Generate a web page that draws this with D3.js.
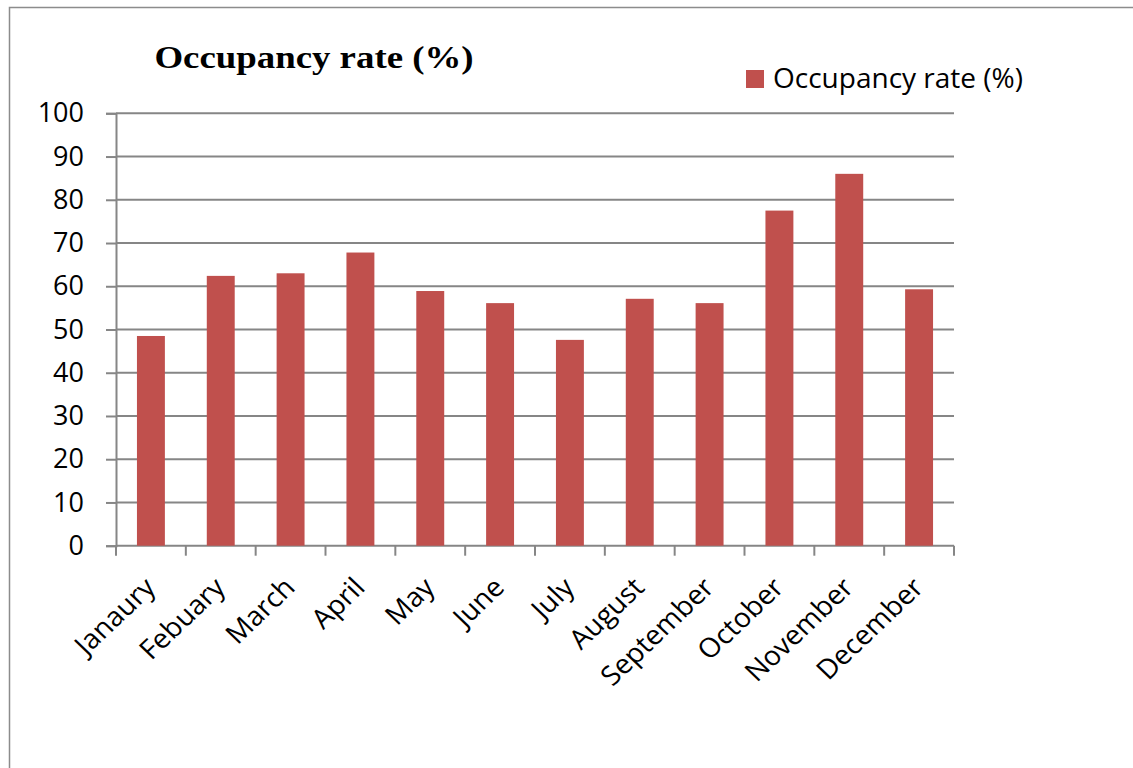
<!DOCTYPE html>
<html>
<head>
<meta charset="utf-8">
<script src="https://cdn.jsdelivr.net/npm/d3@7"></script>
<style>
  body { margin: 0; background: #fff; }
  svg { display: block; }
</style>
</head>
<body>
<div id="chart"></div>
<script>
// data
var months = ["Janaury", "Febuary", "March", "April", "May", "June", "July",
              "August", "September", "October", "November", "December"];
var occupancy = [48.5, 62.4, 63.0, 67.8, 58.9, 56.1, 47.6, 57.1, 56.1, 77.5, 86.0, 59.3];
var yTicks = [0, 10, 20, 30, 40, 50, 60, 70, 80, 90, 100];
var seriesName = "Occupancy rate (%)";
var chartTitle = "Occupancy rate (%)";

var W = 1133, H = 768;
var margin = {top: 113.3, left: 116, right: W - 954, bottom: H - 545.7};
var width = W - margin.left - margin.right,
    height = H - margin.top - margin.bottom;

var labelFont = "'Open Sans', sans-serif";
var gridColor = "#868686";
var barColor = "#C0504D";

var svg = d3.select("#chart").append("svg")
    .attr("width", W)
    .attr("height", H);

// outer chart frame (runs off the right and bottom)
svg.append("rect")
    .attr("x", 9.5).attr("y", 7.5)
    .attr("width", W + 20).attr("height", H + 20)
    .attr("fill", "none")
    .attr("stroke", "#8c8c8c")
    .attr("stroke-width", 1.5);

var g = svg.append("g")
    .attr("transform", "translate(" + margin.left + "," + margin.top + ")");

var x = d3.scaleBand().domain(months).range([0, width]).paddingInner(0.6).paddingOuter(0.3);
var xc = d3.scaleBand().domain(months).range([0, width]);
var y = d3.scaleLinear().domain([0, 100]).range([height, 0]);

// gridlines
g.append("g")
    .selectAll("line")
    .data(yTicks.slice(1))
    .enter().append("line")
    .attr("x1", 0).attr("x2", width)
    .attr("y1", function(d) { return y(d); })
    .attr("y2", function(d) { return y(d); })
    .attr("stroke", gridColor)
    .attr("stroke-width", 2);

// y axis
var yAxis = g.append("g")
    .call(d3.axisLeft(y).tickValues(yTicks).tickSize(10).tickPadding(22));
yAxis.select(".domain").attr("stroke", gridColor).attr("stroke-width", 2);
yAxis.selectAll(".tick line").attr("stroke", gridColor).attr("stroke-width", 2);
yAxis.selectAll("text")
    .attr("font-family", labelFont)
    .attr("font-size", "27px")
    .attr("fill", "#000");

// x axis: ticks sit on category boundaries
var boundaries = d3.range(months.length + 1).map(function(i) { return i * xc.step(); });
var xAxis = g.append("g").attr("transform", "translate(0," + height + ")");
xAxis.append("line")
    .attr("x1", 0).attr("x2", width)
    .attr("stroke", gridColor).attr("stroke-width", 2);
xAxis.selectAll(".btick")
    .data(boundaries)
    .enter().append("line")
    .attr("class", "btick")
    .attr("x1", function(d) { return d; })
    .attr("x2", function(d) { return d; })
    .attr("y1", 0).attr("y2", 10)
    .attr("stroke", gridColor).attr("stroke-width", 2);

xAxis.selectAll(".mlabel")
    .data(months)
    .enter().append("text")
    .attr("class", "mlabel")
    .attr("transform", function(d) {
        return "translate(" + (xc(d) + xc.bandwidth() / 2 - 8) + ",30) scale(1.05,1) rotate(-45)";
    })
    .attr("text-anchor", "end")
    .attr("dy", "0.7em")
    .attr("font-family", labelFont)
    .attr("font-size", "27px")
    .attr("fill", "#000")
    .text(function(d) { return d; });

// bars
g.selectAll(".bar")
    .data(occupancy)
    .enter().append("rect")
    .attr("class", "bar")
    .attr("x", function(d, i) { return x(months[i]); })
    .attr("y", function(d) { return y(d); })
    .attr("width", x.bandwidth())
    .attr("height", function(d) { return height - y(d); })
    .attr("fill", barColor);

// title (the original is drawn wide, so stretch it a little)
svg.append("text")
    .attr("transform", "translate(314,67.5) scale(1.17,1)")
    .attr("text-anchor", "middle")
    .attr("font-family", "'Liberation Serif', 'Times New Roman', serif")
    .attr("font-weight", "bold")
    .attr("font-size", "31.5px")
    .attr("fill", "#000")
    .text(chartTitle);

// legend
var legend = svg.append("g").attr("transform", "translate(746,70)");
legend.append("rect")
    .attr("width", 18).attr("height", 18)
    .attr("fill", barColor);
legend.append("text")
    .attr("x", 27).attr("y", 18)
    .attr("font-family", labelFont)
    .attr("font-size", "28px")
    .attr("fill", "#000")
    .text(seriesName);
</script>
</body>
</html>
